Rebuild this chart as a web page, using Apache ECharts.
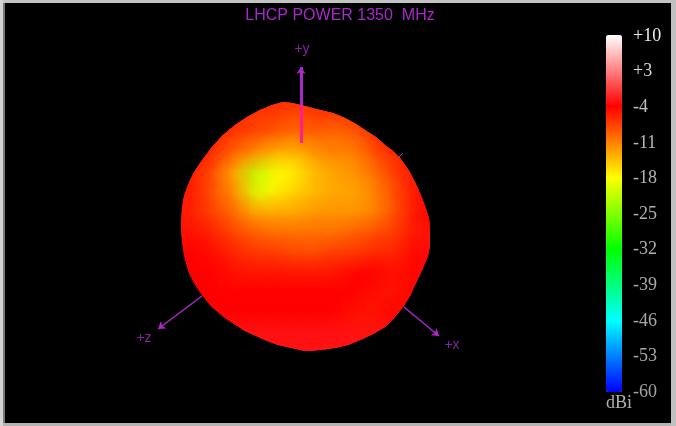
<!DOCTYPE html>
<html><head><meta charset="utf-8">
<style>html,body{margin:0;padding:0;background:#000}#c{width:676px;height:426px}</style>
<script src="https://cdn.jsdelivr.net/npm/echarts@6/dist/echarts.min.js"></script>
</head><body><div id="c"></div>
<script>
const chartTitle = 'LHCP POWER 1350  MHz';
const scaleTicks = ['-60','-53','-46','-39','-32','-25','-18','-11','-4','+3','+10'];
const scaleColors = ['#0000ff','#00ffff','#00ff00','#ffff00','#ff0000','#ffffff'];
const unitLabel = 'dBi';

const latticeX = [180,200,220,240,260,280,300,320,340,360,380,400,420,440];
const latticeY = [100,120,140,160,180,200,220,240,260,280,300,320,340,360];
const gainRows = [
 [-6,-6,-6,-6,-6,-6,-6,-6,-6,-6,-6,-6,-6,-6],
 [-6,-6,-6,-6,-7,-7,-8,-7,-7,-6,-6,-6,-6,-6],
 [-5,-5,-6,-7,-8,-9,-10,-9,-10,-9,-6,-5,-5,-5],
 [-5,-5,-7,-10,-12,-14,-14,-12,-11,-11,-8,-6,-5,-5],
 [-5,-6,-9,-14,-22,-18,-17,-14,-13,-12,-10,-7,-5,-5],
 [-5,-6,-9,-12,-20,-17,-15,-14,-13,-13,-11,-8,-5,-4],
 [-5,-6,-8,-10,-13,-13,-13,-12,-12,-12,-11,-8,-5,-4],
 [-5,-5,-6,-8,-9,-10,-10,-10,-10,-9,-8,-7,-5,-3],
 [-4,-4,-5,-6,-7,-7,-8,-8,-7,-7,-6,-6,-4,-3],
 [-4,-4,-4,-5,-5,-5,-5,-5,-5,-4,-4,-5,-4,-3],
 [-4,-4,-4,-4,-4,-4,-4,-4,-4,-4,-5,-5,-4,-3],
 [-4,-4,-4,-4,-4,-4,-4,-4,-4,-5,-5,-4,-3,-3],
 [-3,-3,-3,-3,-3,-3,-3,-3,-3,-3,-3,-3,-3,-3],
 [-3,-3,-3,-3,-3,-3,-3,-3,-3,-3,-3,-3,-3,-3]
];
// visible outline of the pattern surface
const outlineX = [283,292,301,320,333,345,356,365,376,385,393,400,408,415,420,425,429,430,430,428,423,415,410,403,395,385,373,360,348,335,320,305,292,278,265,245,225,212,202,194,188,184,182,181,182,184,188,193,200,212,223,235,247,260,272];
const outlineY = [102,103,105,110,113,118,124,130,137,145,151,158,169,182,193,206,218,232,245,256,268,285,296,307,317,327,334,340,345,348,350,351,348,345,340,331,318,307,295,283,270,255,240,225,208,196,185,174,163,147,135,125,117,110,105];

// axis arrows: [x0,y0,x1,y1]
const arrowY = [301,105,301,67];
const arrowYInner = [301,143,301,105];
const arrowZ = [202,296,158,329];
const arrowX = [404,307,439,336];
const stubTick = [398,158,403,153];
const axisNames = ['+y','+z','+x'];
const axisNameX = [302,144,452];
const axisNameY = [49,338,345];

const cells = [];
gainRows.forEach((row,j)=>row.forEach((v,i)=>cells.push([latticeX[i],latticeY[j],v])));

const purple = '#a829c8', pink = '#ff1f8f';
const chart = echarts.init(document.getElementById('c'));

function outlinePoints(api){
  return outlineX.map((x,i)=>api.coord([x,outlineY[i]]));
}
function renderBase(params,api){
  const p = api.coord([api.value(0),api.value(1)]);
  return {type:'rect',shape:{x:p[0]-11,y:p[1]-11,width:22,height:22},
    style:{fill:api.visual('color')},
    clipPath:{type:'polygon',shape:{points:outlinePoints(api)}}};
}
function renderSoft(params,api){
  const p = api.coord([api.value(0),api.value(1)]);
  const col = api.visual('color');
  return {type:'circle',shape:{cx:p[0],cy:p[1],r:30},
    style:{fill:{type:'radial',x:.5,y:.5,r:.5,colorStops:[
      {offset:0,color:echarts.color.modifyAlpha(col,.9)},
      {offset:.45,color:echarts.color.modifyAlpha(col,.5)},
      {offset:1,color:echarts.color.modifyAlpha(col,0)}]}},
    clipPath:{type:'polygon',shape:{points:outlinePoints(api)}}};
}
const arrowSeg = (a,color,arrow,width)=>({
  coords:[[a[0],a[1]],[a[2],a[3]]],
  lineStyle:{color,width,opacity:1},
  symbol:['none',arrow?'arrow':'none'],symbolSize:arrow?7:0
});

chart.setOption({
  animation:false,
  backgroundColor:'#000',
  title:{text:chartTitle,left:335,top:3,textAlign:'center',
    textStyle:{color:purple,fontFamily:'Liberation Sans',fontSize:16,fontWeight:'normal'}},
  grid:[
    {left:0,top:0,width:676,height:426,show:false},
    {left:606,top:36,width:16,height:356,show:false}
  ],
  xAxis:[
    {gridIndex:0,type:'value',min:0,max:676,show:false},
    {gridIndex:1,type:'value',min:0,max:1,show:false}
  ],
  yAxis:[
    {gridIndex:0,type:'value',min:0,max:426,inverse:true,show:false},
    {gridIndex:1,type:'category',data:scaleTicks,position:'right',boundaryGap:false,
      axisLine:{show:false},axisTick:{show:false},splitLine:{show:false},
      axisLabel:{show:true,interval:0,margin:11,fontFamily:'Liberation Serif',fontSize:18,
        color:(v,i)=>['#a4a4a4','#a8a8a8','#a8a8a8','#aaaaaa','#aeaeae','#b0b0b0','#b4b4b4','#b8b8b8','#c0c0c0','#d8d8d8','#ececec'][i]}}
  ],
  visualMap:{type:'continuous',min:-60,max:10,dimension:2,seriesIndex:[0,1],
    left:606,top:35,padding:0,itemWidth:16,itemHeight:357,showLabel:false,
    calculable:false,realtime:false,hoverLink:false,
    inRange:{color:scaleColors}},
  graphic:[
    {type:'rect',silent:true,z:100,shape:{x:0,y:0,width:676,height:3},style:{fill:'#c4c4c4'}},
    {type:'rect',silent:true,z:100,shape:{x:0,y:423,width:676,height:3},style:{fill:'#b4b4b4'}},
    {type:'rect',silent:true,z:100,shape:{x:0,y:0,width:3,height:426},style:{fill:'#d4d4d4'}},
    {type:'rect',silent:true,z:100,shape:{x:3,y:3,width:2,height:420},style:{fill:'#777777'}},
    {type:'rect',silent:true,z:100,shape:{x:671,y:0,width:5,height:426},style:{fill:'#c0c0c0'}},
    {type:'text',silent:true,z:100,x:606,y:394,style:{text:unitLabel,fill:'#b0b0b0',fontFamily:'Liberation Serif',fontSize:18}}
  ],
  series:[
    {type:'custom',name:'gain-base',coordinateSystem:'cartesian2d',xAxisIndex:0,yAxisIndex:0,
      data:cells,renderItem:renderBase,silent:true,z:2},
    {type:'custom',name:'gain',coordinateSystem:'cartesian2d',xAxisIndex:0,yAxisIndex:0,
      data:cells,renderItem:renderSoft,silent:true,z:3},
    {type:'lines',coordinateSystem:'cartesian2d',xAxisIndex:0,yAxisIndex:0,silent:true,z:5,
      data:[arrowSeg(arrowY,purple,true,3),arrowSeg(arrowYInner,pink,false,3),
            arrowSeg(arrowZ,purple,true,1.5),arrowSeg(arrowX,purple,true,1.5),
            {coords:[[stubTick[0],stubTick[1]],[stubTick[2],stubTick[3]]],lineStyle:{color:'#7a4fd0',width:1,opacity:1},symbol:['none','none']}]},
    {type:'scatter',xAxisIndex:0,yAxisIndex:0,silent:true,z:6,symbolSize:0,
      data:axisNames.map((n,i)=>({name:n,value:[axisNameX[i],axisNameY[i]]})),
      label:{show:true,position:'inside',formatter:'{b}',color:purple,fontFamily:'Liberation Sans',fontSize:14}}
  ]
});
</script></body></html>
